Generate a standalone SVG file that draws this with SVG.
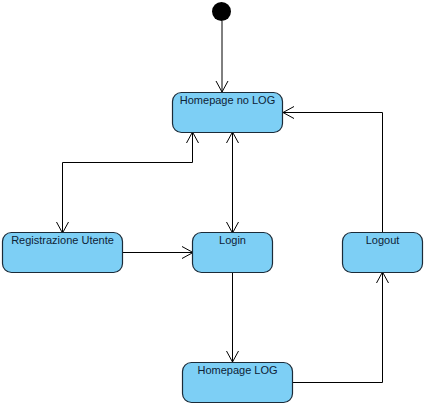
<svg xmlns="http://www.w3.org/2000/svg" width="426" height="406" viewBox="0 0 426 406">
<style>
.state{fill:#7dcff5;stroke:#1b2b38;stroke-width:1.2}
.lbl{font-family:"Liberation Sans",Arial,sans-serif;font-size:11px;fill:#0d2235;text-anchor:middle}
.conn{fill:none;stroke:#000;stroke-width:1}
</style>
<defs>
<marker id="arr" markerUnits="userSpaceOnUse" markerWidth="14" markerHeight="14" viewBox="-12 -7 14 14" refX="0" refY="0" orient="auto-start-reverse">
<path d="M-11,-6 L0,0 L-11,6" fill="none" stroke="#000" stroke-width="1"/>
</marker>
</defs>
<rect width="426" height="406" fill="#fff"/>
<g id="connectors">
<path class="conn" d="M222,21 L222,92" marker-end="url(#arr)"/>
<path class="conn" d="M192.5,132 L192.5,162.5 L62.5,162.5 L62.5,233" marker-start="url(#arr)" marker-end="url(#arr)"/>
<path class="conn" d="M232.5,132 L232.5,233" marker-start="url(#arr)" marker-end="url(#arr)"/>
<path class="conn" d="M123,252.5 L193,252.5" marker-end="url(#arr)"/>
<path class="conn" d="M232.5,273 L232.5,362" marker-end="url(#arr)"/>
<path class="conn" d="M293,382.5 L382.5,382.5 L382.5,272" marker-end="url(#arr)"/>
<path class="conn" d="M382.5,232 L382.5,112.5 L283,112.5" marker-end="url(#arr)"/>
</g>
<g id="initial">
<circle cx="221.5" cy="11.5" r="9.5" fill="#000"/>
</g>
<g id="homepage-no-log">
<rect class="state" x="172.5" y="92.5" width="110" height="40" rx="9"/>
<text class="lbl" x="227.5" y="104">Homepage no LOG</text>
</g>
<g id="registrazione-utente">
<rect class="state" x="2.5" y="232.5" width="120" height="40" rx="9"/>
<text class="lbl" x="62.5" y="244">Registrazione Utente</text>
</g>
<g id="login">
<rect class="state" x="192.5" y="232.5" width="80" height="40" rx="9"/>
<text class="lbl" x="232.5" y="244">Login</text>
</g>
<g id="logout">
<rect class="state" x="342.5" y="232.5" width="80" height="40" rx="9"/>
<text class="lbl" x="382.5" y="244">Logout</text>
</g>
<g id="homepage-log">
<rect class="state" x="182.5" y="362.5" width="110" height="40" rx="9"/>
<text class="lbl" x="237.5" y="374">Homepage LOG</text>
</g>
</svg>
